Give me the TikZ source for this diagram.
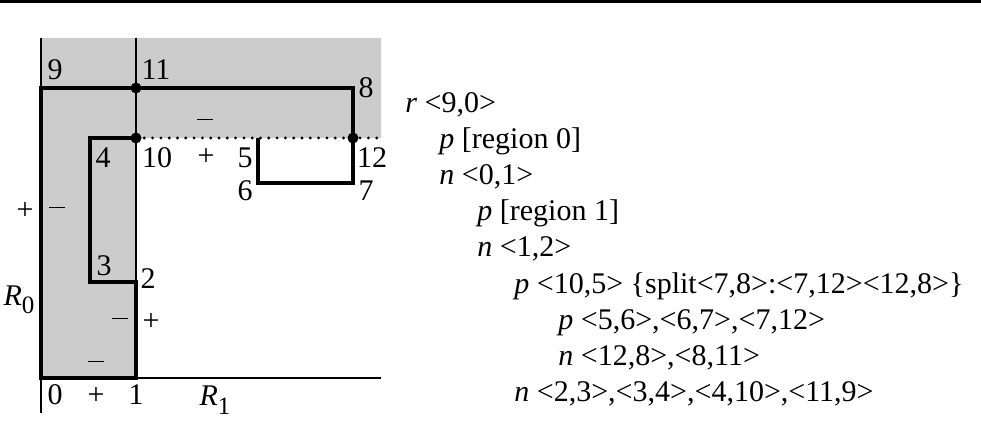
\documentclass[tikz,border=0pt]{standalone}
\usepackage{fontspec}
\setmainfont{Liberation Serif}
\newcommand{\mns}{\rule[0.23em]{0.52em}{0.055em}}
\begin{document}
\begin{tikzpicture}[x=0.5pt,y=-0.5pt,
  lbl/.style={inner sep=0pt, font=\fontsize{15}{18}\selectfont},
  txt/.style={inner sep=0pt, anchor=base west, font=\fontsize{15}{18}\selectfont},
  thinline/.style={line width=0.75pt},
  boundary/.style={line width=2pt, line join=miter},
  splitline/.style={line width=1.6pt, line cap=round, dash pattern=on 0pt off 4.15pt},
  vertexdot/.style={circle, fill=black, inner sep=0pt, minimum size=5.5pt},
  shade/.style={fill=black!20}]
\useasboundingbox (0,0) rectangle (981,432);
% top rule
\fill (0,0) rectangle (981,2.6);
% shaded region
\fill[shade] (41,38) -- (381,38) -- (381,138) -- (136,138) -- (136,378) -- (41,378) -- cycle;
% coordinates of vertices
\coordinate (v0) at (41,378);
\coordinate (v1) at (136,378);
\coordinate (v2) at (136,282);
\coordinate (v3) at (90,282);
\coordinate (v4) at (90,138);
\coordinate (v5) at (258,138);
\coordinate (v6) at (258,183);
\coordinate (v7) at (353,183);
\coordinate (v8) at (353,88);
\coordinate (v9) at (41,88);
\coordinate (v10) at (136,138);
\coordinate (v11) at (136,88);
\coordinate (v12) at (353,138);
\coordinate (axtop0) at (41,38);
\coordinate (axbot0) at (41,413);
\coordinate (axtop1) at (136,38);
\coordinate (axend1) at (381,378);
\coordinate (splitend) at (381,138);
% thin region lines
\draw[thinline] (axtop0) -- (axbot0);
\draw[thinline] (axtop1) -- (v1);
\draw[thinline] (v0) -- (axend1);
% split line (dotted)
\draw[splitline] (v10) -- (splitend);
% thick boundary
\draw[boundary] (v5) -- (v6) -- (v7) -- (v12) -- (v8) -- (v9) -- (v0) -- (v1) -- (v2) -- (v3) -- (v4) -- (v10);
% vertex dots
\node[vertexdot] (d10) at (v10) {};
\node[vertexdot] (d11) at (v11) {};
\node[vertexdot] (d12) at (v12) {};
% vertex labels
\node[lbl] (l9) at (55,70) {9};
\node[lbl] (l11) at (156,70) {11};
\node[lbl] (l8) at (366,88) {8};
\node[lbl] (m1) at (205,123) {\mns};
\node[lbl] (l4) at (103,158) {4};
\node[lbl] (l10) at (157,158) {10};
\node[lbl] (p1) at (206,157) {+};
\node[lbl] (l5) at (245,158) {5};
\node[lbl] (l12) at (372,158) {12};
\node[lbl] (l6) at (245,191) {6};
\node[lbl] (l7) at (366,191) {7};
\node[lbl] (p2) at (25,211) {+};
\node[lbl] (m2) at (57,211) {\mns};
\node[lbl] (l3) at (104,266) {3};
\node[lbl] (l2) at (148,279) {2};
\node[lbl] (r0) at (19,300) {\textit{R}\raisebox{-0.28em}{\fontsize{12.5}{12}\selectfont 0}};
\node[lbl] (m3) at (120,322) {\mns};
\node[lbl] (p3) at (151,322) {+};
\node[lbl] (m4) at (96,365) {\mns};
\node[lbl] (l0) at (55,395) {0};
\node[lbl] (p4) at (96,396) {+};
\node[lbl] (l1) at (136,395) {1};
\node[lbl] (r1) at (215,400) {\textit{R}\raisebox{-0.28em}{\fontsize{12.5}{12}\selectfont 1}};
% tree text
\node[txt] (t1) at (405,113) {\textit{r} <9,0>};
\node[txt] (t2) at (439,149) {\textit{p} [region 0]};
\node[txt] (t3) at (439,185) {\textit{n} <0,1>};
\node[txt] (t4) at (477,221) {\textit{p} [region 1]};
\node[txt] (t5) at (477,257) {\textit{n} <1,2>};
\node[txt] (t6) at (514,294) {\textit{p} <10,5> \{split<7,8>:<7,12><12,8>\}};
\node[txt] (t7) at (558,330) {\textit{p} <5,6>,<6,7>,<7,12>};
\node[txt] (t8) at (558,366) {\textit{n} <12,8>,<8,11>};
\node[txt] (t9) at (514,402) {\textit{n} <2,3>,<3,4>,<4,10>,<11,9>};
\end{tikzpicture}
\end{document}
